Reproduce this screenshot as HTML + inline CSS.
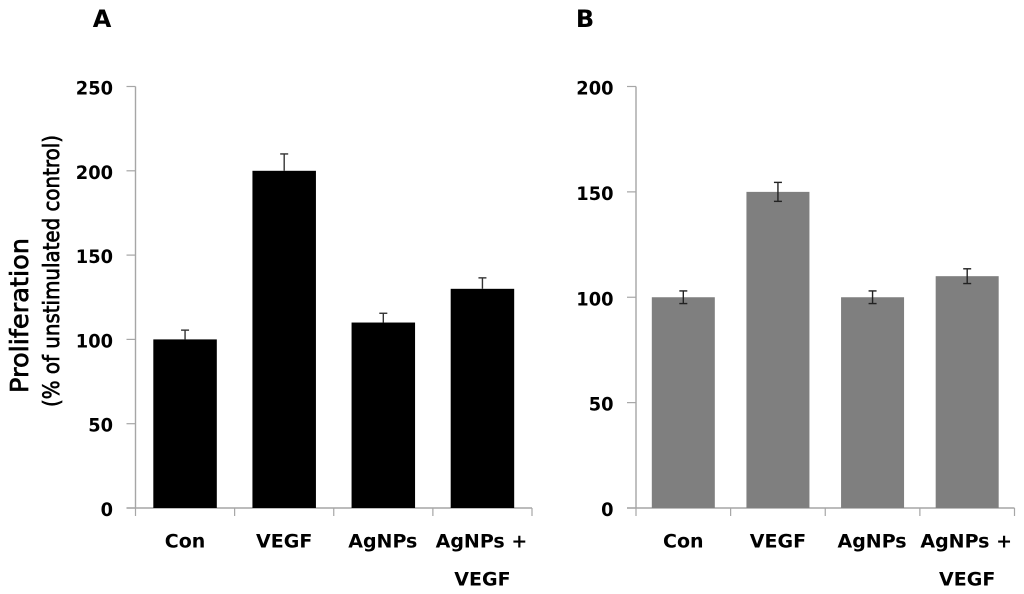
<!DOCTYPE html>
<html lang="en">
<head>
<meta charset="utf-8">
<title>Proliferation charts</title>
<style>
html,body{margin:0;padding:0;background:#fff;}
svg{display:block;}
text{font-family:"DejaVu Sans","Liberation Sans",sans-serif;font-weight:bold;fill:#000;}
</style>
</head>
<body>
<svg id="chart" width="1024" height="594" viewBox="0 0 1024 594" xmlns="http://www.w3.org/2000/svg">
  <text x="102" y="27" font-size="24" text-anchor="middle">A</text>
  <text x="585" y="27" font-size="24" text-anchor="middle">B</text>
  <text transform="translate(28 315.5) rotate(-90)" font-size="25" text-anchor="middle" textLength="155" lengthAdjust="spacingAndGlyphs" style="font-weight:normal;stroke:#000;stroke-width:.7px">Proliferation</text>
  <text transform="translate(59 271) rotate(-90)" font-size="22" text-anchor="middle" textLength="272" lengthAdjust="spacingAndGlyphs" style="font-weight:normal;stroke:#000;stroke-width:.7px">(% of unstimulated control)</text>
</svg>
<script>
const categories = ["Con", "VEGF", "AgNPs", "AgNPs +|VEGF"];
const valuesA = [100, 200, 110, 130];
const errorsA = [5.5, 10, 5.5, 6.5];
const ticksA = [0, 50, 100, 150, 200, 250];
const valuesB = [100, 150, 100, 110];
const errorsB = [3, 4.5, 3, 3.5];
const ticksB = [0, 50, 100, 150, 200];

const NS = "http://www.w3.org/2000/svg";
const svg = document.getElementById("chart");
const AXIS = "#a6a6a6";

function line(x1, y1, x2, y2, stroke, width) {
  const el = document.createElementNS(NS, "line");
  el.setAttribute("x1", x1);
  el.setAttribute("y1", y1);
  el.setAttribute("x2", x2);
  el.setAttribute("y2", y2);
  el.setAttribute("stroke", stroke);
  el.setAttribute("stroke-width", width);
  svg.appendChild(el);
  return el;
}

function label(x, y, content, size, anchor, squeeze) {
  const el = document.createElementNS(NS, "text");
  el.setAttribute("x", x);
  el.setAttribute("y", y);
  el.setAttribute("font-size", size);
  el.setAttribute("text-anchor", anchor);
  if (squeeze) {
    el.setAttribute("textLength", squeeze);
    el.setAttribute("lengthAdjust", "spacingAndGlyphs");
  }
  el.textContent = content;
  svg.appendChild(el);
  return el;
}

function drawPanel(p) {
  const yScale = function (v) {
    return p.bottom - (v / p.max) * (p.bottom - p.top);
  };
  const band = (p.right - p.left) / categories.length;
  const xCenter = function (i) {
    return p.left + band * (i + 0.5);
  };

  const yAxis = line(p.left, p.top, p.left, p.bottom, AXIS, 1.4);
  
  
  const xAxis = line(p.left - 9, p.bottom, p.right, p.bottom, AXIS, 1.4);
  
  

  p.ticks.forEach(function (t) {
    const y = yScale(t);
    const mark = line(p.left - 9, y, p.left, y, AXIS, 1.2);
    
    
    const txt = label(p.left - 22.5, y + 8, String(t), 19, "end", String(t).length * 12.4);
    
    
  });

  for (let i = 0; i <= categories.length; i++) {
    const x = p.left + band * i;
    const mark = line(x, p.bottom, x, p.bottom + 8, AXIS, 1.2);
    
    
  }

  categories.forEach(function (c, i) {
    const cx = xCenter(i);
    const parts = c.split("|");
    parts.forEach(function (part, k) {
      const txt = label(cx + (k === 0 && i === 3 ? -1 : 0) + (i === 2 ? -0.5 : 0), 547.5 + k * 38, part, 19, "middle");
      
      
    });
  });

  p.values.forEach(function (v, i) {
    const cx = xCenter(i);
    const y = yScale(v);
    const bar = document.createElementNS(NS, "rect");
    bar.setAttribute("x", cx - p.barWidth / 2);
    bar.setAttribute("y", y);
    bar.setAttribute("width", p.barWidth);
    bar.setAttribute("height", p.bottom - y);
    bar.setAttribute("fill", p.fill);
    
    
    svg.appendChild(bar);

    const hi = yScale(v + p.errors[i]);
    const lo = p.bothSides ? yScale(v - p.errors[i]) : y;
    const stem = line(cx, hi, cx, lo, p.errColor, 1.4);
    
    
    const cap = line(cx - 4, hi, cx + 4, hi, p.errColor, 1.4);
    
    
    if (p.bothSides) {
      const capLow = line(cx - 4, lo, cx + 4, lo, p.errColor, 1.4);
      
      
    }
  });
}

drawPanel({
  id: "panel-a", left: 135.5, right: 532, top: 86.5, bottom: 508, max: 250,
  ticks: ticksA, values: valuesA, errors: errorsA, barWidth: 63.5,
  fill: "#000", errColor: "#333", bothSides: false
});
drawPanel({
  id: "panel-b", left: 636, right: 1014.5, top: 86.5, bottom: 508, max: 200,
  ticks: ticksB, values: valuesB, errors: errorsB, barWidth: 63,
  fill: "#7f7f7f", errColor: "#222", bothSides: true
});
</script>
</body>
</html>
